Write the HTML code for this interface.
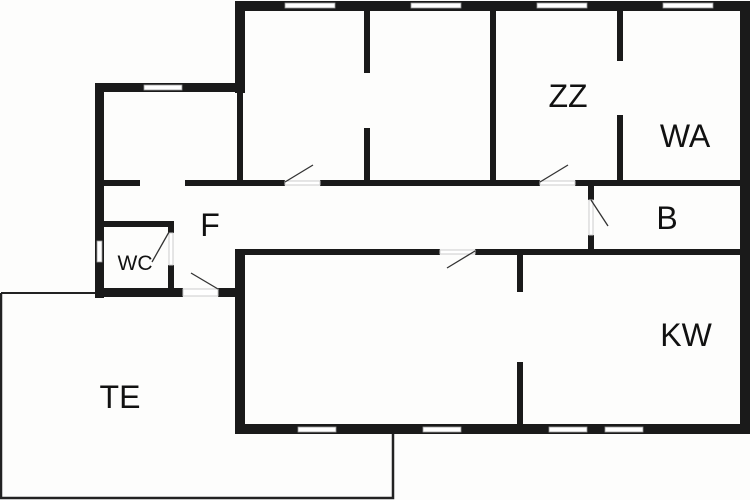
<!DOCTYPE html>
<html><head><style>
html,body{margin:0;padding:0;background:#fff;}
svg{display:block;}
text{font-family:"Liberation Sans",sans-serif;fill:#111;}
</style></head><body>
<svg width="750" height="500" viewBox="0 0 750 500">
<rect width="750" height="500" fill="#fdfdfc"/>
<!-- TE outline -->
<polyline points="1,293 96,293" stroke="#222" stroke-width="2" fill="none"/>
<polyline points="1,293 1,498 393,498 393,432" stroke="#222" stroke-width="2.5" fill="none"/>
<g fill="#1a1a1a">
<!-- main outer -->
<rect x="235" y="1" width="515" height="10"/>
<rect x="740" y="1" width="10" height="433"/>
<rect x="235" y="424" width="515" height="10"/>
<rect x="235" y="1" width="10" height="92"/>
<rect x="237" y="92" width="6" height="93"/>
<rect x="235" y="250" width="10" height="184"/>
<!-- annex -->
<rect x="95" y="83" width="150" height="9"/>
<rect x="95" y="83" width="9" height="215"/>
<rect x="95" y="288" width="88" height="9"/>
<rect x="218" y="288" width="27" height="9"/>
<!-- hall walls -->
<rect x="104" y="180" width="36" height="6"/>
<rect x="185" y="180" width="100" height="6"/>
<rect x="320" y="180" width="220" height="6"/>
<rect x="575" y="180" width="170" height="6"/>
<rect x="235" y="249" width="205" height="6"/>
<rect x="475" y="249" width="270" height="6"/>
<!-- verticals -->
<rect x="364" y="10" width="6" height="63"/>
<rect x="364" y="128" width="6" height="57"/>
<rect x="490" y="10" width="6" height="175"/>
<rect x="617" y="10" width="6" height="51"/>
<rect x="617" y="115" width="6" height="70"/>
<rect x="588" y="183" width="6" height="17"/>
<rect x="588" y="235" width="6" height="18"/>
<rect x="517" y="253" width="6" height="39"/>
<rect x="517" y="362" width="6" height="65"/>
<!-- WC -->
<rect x="104" y="221" width="69" height="6"/>
<rect x="168" y="221" width="6" height="12"/>
<rect x="168" y="265" width="6" height="27"/>
</g>
<!-- windows -->
<g fill="#fff" stroke="#999" stroke-width="0.8">
<rect x="285" y="3" width="50" height="5"/>
<rect x="411" y="3" width="50" height="5"/>
<rect x="537" y="3" width="50" height="5"/>
<rect x="663" y="3" width="50" height="5"/>
<rect x="144" y="85" width="38" height="5"/>
<rect x="97" y="241" width="5" height="21"/>
<rect x="298" y="427" width="38" height="5"/>
<rect x="423" y="427" width="38" height="5"/>
<rect x="549" y="427" width="38" height="5"/>
<rect x="605" y="427" width="38" height="5"/>
</g>
<!-- doors -->
<g stroke="#ccc" stroke-width="1" fill="#fff">
<rect x="285" y="181" width="35" height="4"/>
<rect x="540" y="181" width="35" height="4"/>
<rect x="440" y="250" width="35" height="4"/>
<rect x="183" y="289" width="35" height="7"/>
<rect x="589" y="200" width="4" height="35"/>
<rect x="169" y="233" width="4" height="32"/>
</g>
<g stroke="#333" stroke-width="1.3">
<line x1="285" y1="182" x2="313" y2="165"/>
<line x1="540" y1="182" x2="568" y2="165"/>
<line x1="475" y1="251" x2="447" y2="268"/>
<line x1="218" y1="289" x2="191" y2="273"/>
<line x1="591" y1="200" x2="608" y2="226"/>
<line x1="169" y1="232" x2="152" y2="262"/>
</g>
<text x="568" y="107" font-size="32" text-anchor="middle">ZZ</text>
<text x="685" y="147" font-size="32" text-anchor="middle">WA</text>
<text x="667" y="229" font-size="32" text-anchor="middle">B</text>
<text x="210" y="236" font-size="32" text-anchor="middle">F</text>
<text x="135" y="270" font-size="21" text-anchor="middle">WC</text>
<text x="686" y="346" font-size="32" text-anchor="middle">KW</text>
<text x="120" y="408" font-size="32" text-anchor="middle">TE</text>
</svg>
</body></html>
